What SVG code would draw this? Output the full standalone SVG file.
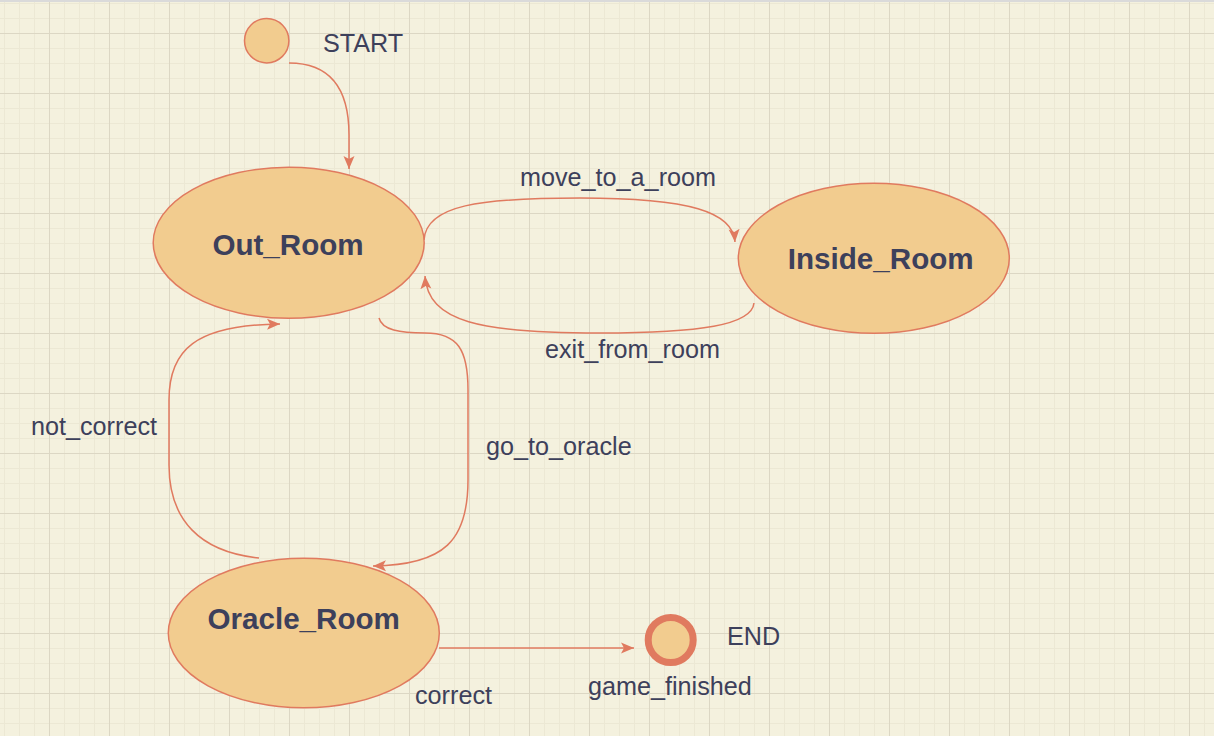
<svg xmlns="http://www.w3.org/2000/svg" width="1214" height="736" viewBox="0 0 1214 736">
<defs>
<pattern id="grid" x="49" y="33" width="60" height="60" patternUnits="userSpaceOnUse">
<path d="M15.5,0V60M30.5,0V60M45.5,0V60M0,15.5H60M0,30.5H60M0,45.5H60" stroke="#ece8d4" stroke-width="1" fill="none"/>
<path d="M0.5,0V60M0,0.5H60" stroke="#dcd7c4" stroke-width="1" fill="none"/>
</pattern>
<marker id="arr" markerUnits="userSpaceOnUse" markerWidth="14" markerHeight="12" refX="13" refY="6" orient="auto">
<path d="M0,0.5 L13,6 L0,11.5 L3,6 Z" fill="#e07a5f"/>
</marker>
<style>
.node{fill:#f2cc8f;stroke:#e07a5f;stroke-width:1.5}
.edge{fill:none;stroke:#e07a5f;stroke-width:1.5;marker-end:url(#arr)}
.lbl{font-family:"Liberation Sans",Arial,sans-serif;font-size:25.2px;fill:#3d405b}
.name{font-family:"Liberation Sans",Arial,sans-serif;font-size:29.6px;font-weight:bold;fill:#3d405b;text-anchor:middle}
</style>
</defs>
<rect width="1214" height="736" fill="#f4f1de"/>
<rect width="1214" height="736" fill="url(#grid)"/>
<line x1="0" y1="1" x2="1214" y2="1" stroke="#dadada" stroke-width="2"/>
<g id="connectors">
<path class="edge" d="M289,63 C335,63 349,95 349,135 L349,169"/>
<path class="edge" d="M424,240 C426,205 480,198 580,198 C690,198 733,212 735,242"/>
<path class="edge" d="M754,303 C752,325 700,333 600,333 C480,333 428,322 425,276"/>
<path class="edge" d="M379,318 C382,330 400,333 425,333 C458,333 468,350 468,390 L468,480 C468,540 445,565 373,566"/>
<path class="edge" d="M259,558 C200,552 169,520 169,465 L169,400 C169,350 195,325 280,324"/>
<path class="edge" d="M439,648 L634,648"/>
<text class="lbl" x="520" y="186">move_to_a_room</text>
<text class="lbl" x="545" y="358">exit_from_room</text>
<text class="lbl" x="486" y="455">go_to_oracle</text>
<text class="lbl" x="31" y="435">not_correct</text>
<text class="lbl" x="415" y="704">correct</text>
</g>
<g id="start">
<circle cx="266.7" cy="40.7" r="22.2" class="node"/>
<text class="lbl" x="323" y="52">START</text>
</g>
<g id="out_room">
<ellipse cx="288.7" cy="242.7" rx="135.5" ry="75.5" class="node"/>
<text class="name" x="288" y="255">Out_Room</text>
</g>
<g id="inside_room">
<ellipse cx="873.8" cy="258.3" rx="135.5" ry="75" class="node"/>
<text class="name" x="880.7" y="269">Inside_Room</text>
</g>
<g id="oracle_room">
<ellipse cx="303.8" cy="633" rx="135.5" ry="74.7" class="node"/>
<text class="name" x="303.7" y="629">Oracle_Room</text>
</g>
<g id="end">
<circle cx="670.7" cy="640" r="22.5" fill="#f2cc8f" stroke="#e07a5f" stroke-width="7"/>
<text class="lbl" x="727" y="645">END</text>
<text class="lbl" x="588" y="695">game_finished</text>
</g>
</svg>
